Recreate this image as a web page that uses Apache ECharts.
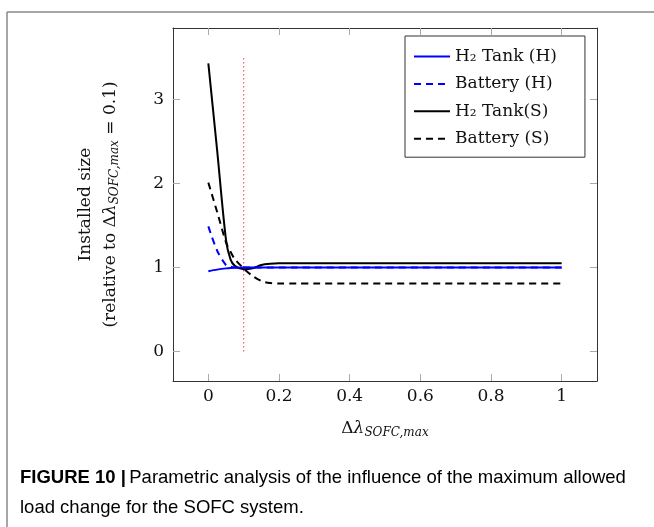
<!DOCTYPE html>
<html>
<head>
<meta charset="utf-8">
<script src="https://cdn.jsdelivr.net/npm/echarts@6/dist/echarts.min.js"></script>
<style>html,body{margin:0;padding:0;background:#fff;}#c{width:654px;height:527px;}</style>
</head>
<body>
<div id="c"></div>
<script>
// ---- data ----
const xs = [0, 0.025, 0.05, 0.0625, 0.075, 0.1, 0.125, 0.15, 0.175, 0.2, 0.25, 0.3, 0.4, 0.5, 0.6, 0.7, 0.8, 0.9, 1.0];
const tankH    = [0.956, 0.975, 0.99, 0.995, 0.998, 1.0, 1.0, 1.0, 1.0, 1.0, 1.0, 1.0, 1.0, 1.0, 1.0, 1.0, 1.0, 1.0, 1.0];
const batteryH = [1.49, 1.2, 1.03, 1.01, 1.0, 1.0, 1.0, 1.0, 1.0, 1.0, 1.0, 1.0, 1.0, 1.0, 1.0, 1.0, 1.0, 1.0, 1.0];
const tankS    = [3.43, 2.39, 1.33, 1.1, 1.02, 0.98, 0.99, 1.03, 1.045, 1.05, 1.05, 1.05, 1.05, 1.05, 1.05, 1.05, 1.05, 1.05, 1.05];
const batteryS = [2.01, 1.66, 1.3, 1.19, 1.1, 0.99, 0.9, 0.84, 0.815, 0.81, 0.81, 0.81, 0.81, 0.81, 0.81, 0.81, 0.81, 0.81, 0.81];
const refX = [0.1, 0.1];
const refY = [0, 3.5];
const xTicks = [0, 0.2, 0.4, 0.6, 0.8, 1];
const yTicks = [0, 1, 2, 3];
const seriesNames = ['H₂ Tank (H)', 'Battery (H)', 'H₂ Tank(S)', 'Battery (S)'];

const pair = (a) => xs.map((x, i) => [x, a[i]]);
const serif = "'DejaVu Serif', 'Liberation Serif', serif";

const chart = echarts.init(document.getElementById('c'), null, {renderer: 'canvas'});

const axisLineStyle = {color: '#333', width: 1};
const tickStyle = {color: '#aaa', width: 1};

const xName = '{n|Δ}{i|λ}{s|SOFC,max}';
const yName = '{n|Installed size}\n{n|(relative to Δ}{i|λ}{s|SOFC,max}{n| = 0.1)}';
const rich = {
  n: {fontFamily: serif, fontSize: 17, color: '#111'},
  i: {fontFamily: serif, fontSize: 17, fontStyle: 'italic', color: '#111'},
  s: {fontFamily: serif, fontSize: 12, fontStyle: 'italic', color: '#111', padding: [8, 0, 0, 0]}
};

function fmt(v) { return String(v); }

chart.setOption({
  animation: false,
  backgroundColor: '#fff',
  grid: {left: 173, top: 28, right: 57, bottom: 146, containLabel: false},
  legend: {
    data: seriesNames,
    orient: 'vertical',
    left: 405, top: 36,
    itemWidth: 36, itemHeight: 14, itemGap: 10.4,
    padding: [12, 28, 10, 8],
    backgroundColor: '#fff',
    borderColor: '#333', borderWidth: 1, borderRadius: 0,
    itemStyle: {opacity: 0, borderWidth: 0},
    textStyle: {fontFamily: serif, fontSize: 17, color: '#111'}
  },
  xAxis: [{
    type: 'value', min: -0.1, max: 1.1, position: 'bottom',
    axisLine: {show: true, onZero: false, lineStyle: axisLineStyle},
    axisTick: {show: true, inside: true, length: 7, lineStyle: tickStyle, customValues: xTicks},
    axisLabel: {show: true, customValues: xTicks, formatter: fmt, margin: 7, fontFamily: serif, fontSize: 17, color: '#111'},
    splitLine: {show: false},
    name: xName, nameLocation: 'middle', nameGap: 38,
    nameTextStyle: {rich: rich}
  }, {
    type: 'value', min: -0.1, max: 1.1, position: 'top',
    axisLine: {show: true, onZero: false, lineStyle: axisLineStyle},
    axisTick: {show: true, inside: true, length: 7, lineStyle: tickStyle, customValues: xTicks},
    axisLabel: {show: false},
    splitLine: {show: false}
  }],
  yAxis: [{
    type: 'value', min: -0.35, max: 3.85, position: 'left',
    axisLine: {show: true, onZero: false, lineStyle: axisLineStyle},
    axisTick: {show: true, inside: true, length: 7, lineStyle: tickStyle, customValues: yTicks},
    axisLabel: {show: true, customValues: yTicks, formatter: fmt, margin: 9, fontFamily: serif, fontSize: 17, color: '#111'},
    splitLine: {show: false},
    name: yName, nameLocation: 'middle', nameGap: 50, nameRotate: 90,
    nameTextStyle: {rich: rich, align: 'center', lineHeight: 25}
  }, {
    type: 'value', min: -0.35, max: 3.85, position: 'right',
    axisLine: {show: true, onZero: false, lineStyle: axisLineStyle},
    axisTick: {show: true, inside: true, length: 7, lineStyle: tickStyle, customValues: yTicks},
    axisLabel: {show: false},
    splitLine: {show: false}
  }],
  series: [
    {name: 'ref', type: 'line', data: refX.map((x, i) => [x, refY[i]]), symbol: 'none',
     lineStyle: {color: '#ff5555', width: 1.2, type: [1.5, 2.5]}, silent: true, z: 1},
    {name: seriesNames[0], type: 'line', data: pair(tankH), symbol: 'none', smooth: 0.3,
     color: '#0000ff', lineStyle: {color: '#0000ff', width: 2}, z: 3},
    {name: seriesNames[1], type: 'line', data: pair(batteryH), symbol: 'none', smooth: 0.3,
     color: '#0000ff', lineStyle: {color: '#0000ff', width: 2, type: [7, 5]}, z: 3},
    {name: seriesNames[2], type: 'line', data: pair(tankS), symbol: 'none', smooth: 0.3,
     color: '#000', lineStyle: {color: '#000', width: 2}, z: 2},
    {name: seriesNames[3], type: 'line', data: pair(batteryS), symbol: 'none', smooth: 0.3,
     color: '#000', lineStyle: {color: '#000', width: 2, type: [7, 5]}, z: 2}
  ],
  graphic: [
    {type: 'line', shape: {x1: 7, y1: 12, x2: 654, y2: 12}, style: {stroke: '#888', lineWidth: 1.5}},
    {type: 'line', shape: {x1: 7, y1: 12, x2: 7, y2: 527}, style: {stroke: '#888', lineWidth: 1.5}},
    {type: 'text', left: 20, top: 468, style: {
      text: '{b|FIGURE 10 |} {r|Parametric analysis of the influence of the maximum allowed}\n{r|load change for the SOFC system.}',
      rich: {
        b: {fontFamily: "'Liberation Sans', Arial, sans-serif", fontWeight: 'bold', fontSize: 18.5, color: '#333', lineHeight: 30},
        r: {fontFamily: "'Liberation Sans', Arial, sans-serif", fontSize: 18.5, color: '#444', lineHeight: 30}
      }
    }}
  ]
});
</script>
</body>
</html>
